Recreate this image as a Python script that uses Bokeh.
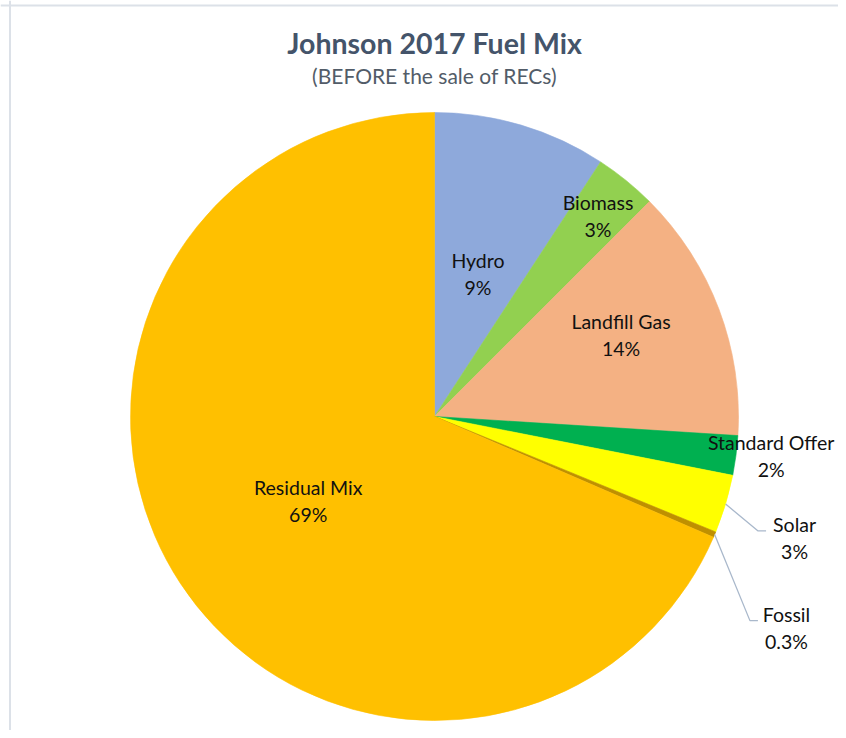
import math
from bokeh.plotting import figure
from bokeh.models import ColumnDataSource, Span
from bokeh.core.properties import value
from bokeh.embed import file_html
from bokeh.resources import INLINE

# ---- data ----
categories = ["Hydro", "Biomass", "Landfill Gas", "Standard Offer", "Solar", "Fossil", "Residual Mix"]
shares = [9.2, 3.3, 13.5, 2.1, 3.1, 0.3, 68.5]
pct_labels = ["9%", "3%", "14%", "2%", "3%", "0.3%", "69%"]
colors = ["#8EA9DB", "#92D050", "#F4B183", "#00B050", "#FFFF00", "#BF9000", "#FFC000"]

title_text = "Johnson 2017 Fuel Mix"
subtitle_text = "(BEFORE the sale of RECs)"

# ---- layout / style ----
W, H = 838, 730
CX, CY, R = 434, 314, 304
label_r = [0.49, 0.85, 0.67, 1.115, 1.25, 1.35, 0.50]       # label radius factor
label_da = [0.4, 0.2, -3.0, -0.7, 1.9, 8.1, -0.5]            # label angle tweak (deg)
leader = [False, False, False, False, True, True, False]
FONT = value("Lato")

total = sum(shares)
starts, ends = [], []
c = 0.0
for s in shares:
    starts.append(c / total)
    c += s
    ends.append(c / total)

def ang(frac):
    return math.pi / 2 - frac * 2 * math.pi

src = ColumnDataSource(dict(
    start=[ang(s) for s in starts],
    end=[ang(e) for e in ends],
    color=colors,
))

p = figure(width=W, height=H, x_range=(0, W), y_range=(0, H),
           output_backend="svg", toolbar_location=None, min_border=0)
p.axis.visible = False
p.grid.visible = False
p.outline_line_color = None
p.background_fill_color = "white"
p.border_fill_color = "white"

p.wedge(x=CX, y=CY, radius=R, start_angle="start", end_angle="end",
        direction="clock", fill_color="color", line_color="color",
        line_width=0.6, source=src)

# labels
lx, ly, names, pcts = [], [], [], []
for i, cat in enumerate(categories):
    mid = (starts[i] + ends[i]) / 2 * 360 + label_da[i]
    th = math.radians(mid)
    x = CX + label_r[i] * R * math.sin(th)
    y = CY + label_r[i] * R * math.cos(th)
    lx.append(x); ly.append(y)
    names.append(cat); pcts.append(pct_labels[i])
    if leader[i]:
        mth = math.radians((starts[i] + ends[i]) / 2 * 360)
        x0 = CX + R * math.sin(mth)
        y0 = CY + R * math.cos(mth)
        xe = x - 28.5
        ye = y + 7
        p.line([x0, xe - 8, xe], [y0, ye, ye], line_color="#A9B8CB", line_width=1.3)

lsrc = ColumnDataSource(dict(x=lx, y=ly, name=names, pct=pcts))
p.text(x="x", y="y", text="name", source=lsrc, text_font=FONT, text_font_size="19.5px",
       text_color="#111111", text_align="center", text_baseline="middle", y_offset=-13.5)
p.text(x="x", y="y", text="pct", source=lsrc, text_font=FONT, text_font_size="19.5px",
       text_color="#111111", text_align="center", text_baseline="middle", y_offset=13.5)

# titles
p.text(x=[CX], y=[688], text=[title_text], text_font=FONT, text_font_size="28.5px",
       text_font_style="bold", text_color="#44546A", text_align="center", text_baseline="middle")
p.text(x=[CX], y=[655], text=[subtitle_text], text_font=FONT, text_font_size="21px",
       text_color="#525C68", text_align="center", text_baseline="middle")

# chart-area border (top & left visible)
p.add_layout(Span(location=9.5, dimension="height", line_color="#DCE1E8", line_width=2))
p.add_layout(Span(location=H - 5, dimension="width", line_color="#DCE1E8", line_width=2))

open("out.html", "w").write(file_html(p, INLINE))
